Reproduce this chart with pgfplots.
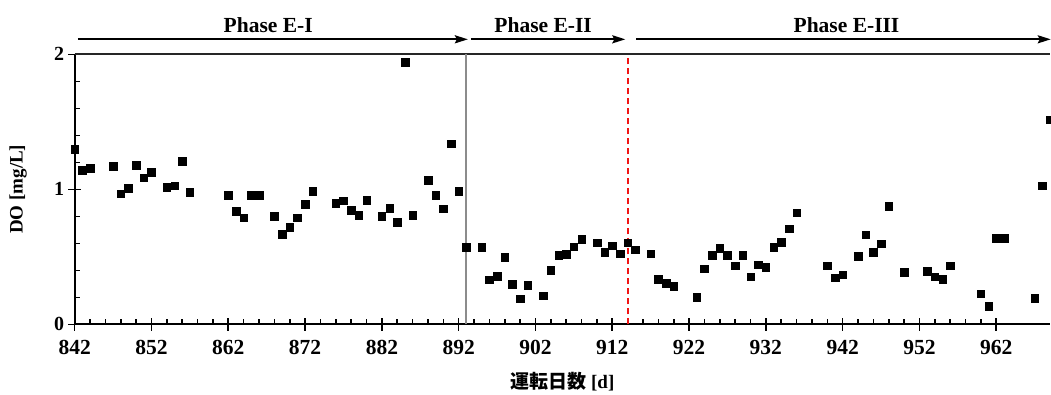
\documentclass[border=0pt]{standalone}
\usepackage{pgfplots}
\pgfplotsset{compat=1.18}
\usepackage{fontspec}
\setmainfont{Liberation Serif}
\newfontfamily\cjk{Noto Sans CJK JP}
\usetikzlibrary{arrows.meta}
\definecolor{dashred}{RGB}{240,20,20}
\pgfplotstableread{
x y
842 1.296
843 1.141
844 1.158
847 1.170
848 0.968
849 1.007
850 1.178
851 1.086
852 1.128
854 1.017
855 1.027
856 1.210
857 0.978
862 0.956
863 0.837
864 0.790
865 0.956
866 0.956
868 0.800
869 0.668
870 0.719
871 0.789
872 0.889
873 0.988
876 0.899
877 0.916
878 0.847
879 0.810
880 0.919
882 0.800
883 0.859
884 0.758
885 1.941
886 0.810
888 1.069
889 0.958
890 0.857
891 1.338
892 0.988
893 0.570
895 0.570
896 0.331
897 0.356
898 0.499
899 0.299
900 0.190
901 0.290
903 0.212
904 0.402
905 0.511
906 0.521
907 0.575
908 0.632
910 0.605
911 0.536
912 0.583
913 0.523
914 0.605
915 0.553
917 0.523
918 0.333
919 0.304
920 0.281
923 0.202
924 0.412
925 0.511
926 0.563
927 0.511
928 0.435
929 0.511
930 0.353
931 0.442
932 0.422
933 0.570
934 0.607
935 0.709
936 0.827
940 0.435
941 0.346
942 0.368
944 0.506
945 0.664
946 0.536
947 0.598
948 0.877
950 0.385
953 0.393
954 0.353
955 0.336
956 0.435
960 0.227
961 0.133
962 0.637
963 0.637
967 0.195
968 1.027
969 1.516
}\dodata
\begin{document}
\begin{tikzpicture}
\useasboundingbox (-74.7pt,-69.7pt) rectangle (976.3pt,324.3pt);
\begin{axis}[
  at={(0pt,0pt)}, anchor=south west,
  scale only axis, width=975.3pt, height=270pt,
  xmin=842, xmax=969, ymin=0, ymax=2,
  clip=false,
  axis lines=left,
  axis line style={-, line width=2pt, black},
  xtick={842,852,...,962},
  ytick={0,1,2},
  minor x tick num=4,
  minor y tick num=4,
  tick align=inside,
  major tick length=6.5pt,
  minor tick length=5pt,
  tick style={black, line width=1.6pt},
  extra x ticks={842,852,...,962},
  extra x tick labels={},
  extra y ticks={0,1,2},
  extra y tick labels={},
  extra tick style={tick align=outside, major tick length=6.5pt, tick style={black, line width=1.6pt}},
  /pgf/number format/assume math mode=true,
  /pgf/number format/1000 sep={},
  xticklabel style={font=\fontsize{21.5}{21.5}\selectfont\bfseries, yshift=-12pt},
  yticklabel style={font=\fontsize{20}{20}\selectfont\bfseries, xshift=-7pt},
  xlabel={{\cjk\bfseries 運転日数} [d]},
  ylabel={DO [mg/L]},
  every axis x label/.style={at={(axis description cs:0.5,0)}, yshift=-57pt, anchor=center, font=\fontsize{19}{19}\selectfont\bfseries},
  every axis y label/.style={at={(axis description cs:0,0.5)}, xshift=-56.5pt, rotate=90, anchor=center, font=\fontsize{19}{19}\selectfont\bfseries},
]
\draw[line width=2pt, black!85] (rel axis cs:0,1) -- (rel axis cs:1,1);
\draw[line width=2pt, black!45] (axis cs:893,0) -- (axis cs:893,2);
\draw[line width=2pt, dashred, dash pattern=on 6pt off 4pt] (axis cs:914,0) -- (axis cs:914,2);
\addplot[only marks, mark=square*, mark size=3.8pt, black] table[x=x,y=y] {\dodata};
\draw[line width=2pt, -{Stealth[length=13pt,width=8pt,inset=2pt]}] (axis cs:842.4,2.111) -- (axis cs:893.2,2.111);
\draw[line width=2pt, -{Stealth[length=13pt,width=8pt,inset=2pt]}] (axis cs:893.6,2.111) -- (axis cs:913.7,2.111);
\draw[line width=2pt, -{Stealth[length=13pt,width=8pt,inset=2pt]}] (axis cs:915.1,2.111) -- (axis cs:969.1,2.111);
\node[anchor=base, font=\fontsize{21.5}{21.5}\selectfont\bfseries] at (axis cs:867.2,2.158) {Phase E-I};
\node[anchor=base, font=\fontsize{21.5}{21.5}\selectfont\bfseries] at (axis cs:903.0,2.158) {Phase E-II};
\node[anchor=base, font=\fontsize{21.5}{21.5}\selectfont\bfseries] at (axis cs:942.5,2.158) {Phase E-III};
\end{axis}
\end{tikzpicture}
\end{document}
